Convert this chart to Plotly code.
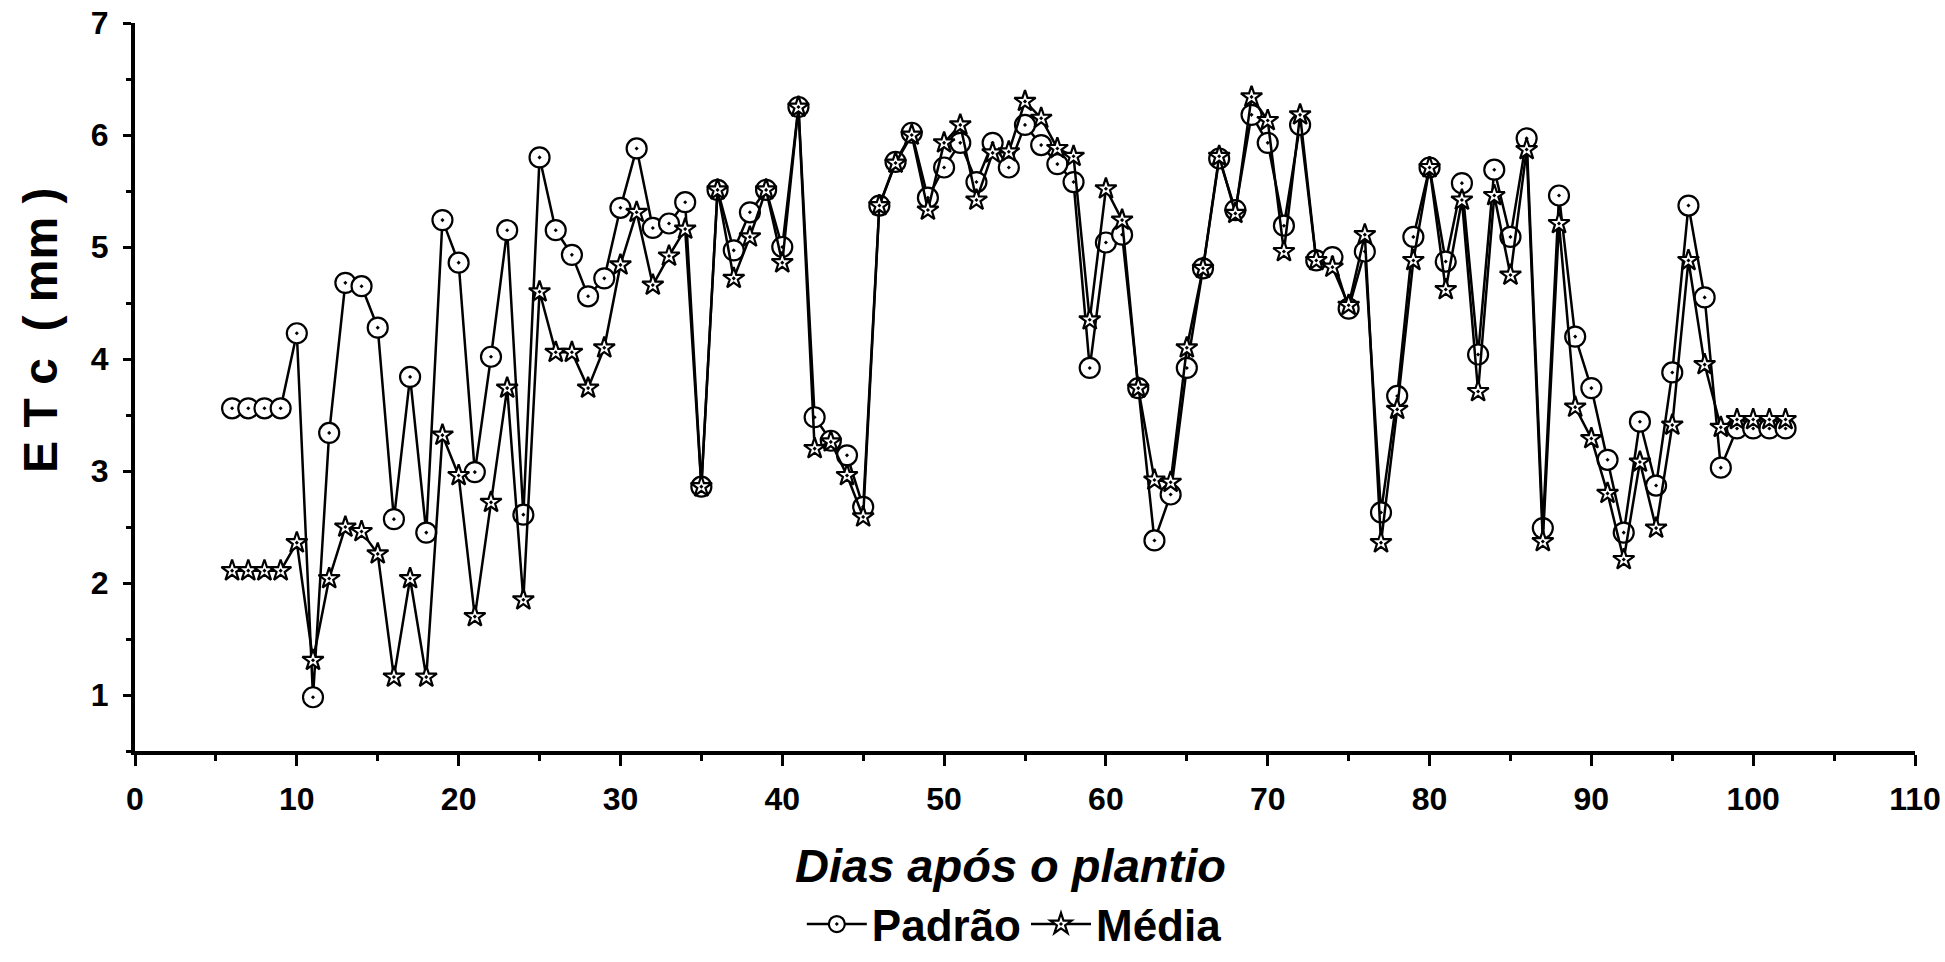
import plotly.graph_objects as go

# Days after planting (x) and crop evapotranspiration ETc in mm (y)
dias = list(range(6, 103))

etc_padrao = [
    3.56, 3.56, 3.56, 3.56, 4.23, 0.98, 3.34, 4.68, 4.65, 4.28,   # 6-15
    2.57, 3.84, 2.45, 5.24, 4.86, 2.99, 4.02, 5.15, 2.61, 5.80,   # 16-25
    5.15, 4.93, 4.56, 4.72, 5.35, 5.88, 5.17, 5.21, 5.40, 2.86,   # 26-35
    5.51, 4.97, 5.31, 5.51, 5.00, 6.25, 3.48, 3.27, 3.14, 2.68,   # 36-45
    5.37, 5.76, 6.02, 5.44, 5.71, 5.93, 5.58, 5.93, 5.71, 6.09,   # 46-55
    5.91, 5.74, 5.58, 3.92, 5.04, 5.11, 3.74, 2.38, 2.79, 3.92,   # 56-65
    4.81, 5.79, 5.33, 6.18, 5.93, 5.19, 6.09, 4.88, 4.91, 4.45,   # 66-75
    4.96, 2.63, 3.67, 5.09, 5.71, 4.87, 5.57, 4.04, 5.69, 5.09,   # 76-85
    5.97, 2.49, 5.46, 4.20, 3.74, 3.10, 2.45, 3.44, 2.87, 3.88,   # 86-95
    5.37, 4.55, 3.03, 3.38, 3.38, 3.38, 3.38,                     # 96-102
]

etc_media = [
    2.11, 2.11, 2.11, 2.11, 2.36, 1.31, 2.04, 2.50, 2.46, 2.26,   # 6-15
    1.16, 2.04, 1.16, 3.32, 2.96, 1.70, 2.72, 3.74, 1.85, 4.60,   # 16-25
    4.06, 4.06, 3.74, 4.10, 4.84, 5.31, 4.66, 4.92, 5.16, 2.86,   # 26-35
    5.51, 4.72, 5.09, 5.51, 4.86, 6.25, 3.20, 3.26, 2.96, 2.59,   # 36-45
    5.37, 5.75, 6.00, 5.33, 5.93, 6.09, 5.42, 5.84, 5.85, 6.30,   # 46-55
    6.15, 5.88, 5.81, 4.35, 5.52, 5.24, 3.74, 2.92, 2.90, 4.10,   # 56-65
    4.81, 5.81, 5.30, 6.34, 6.13, 4.96, 6.18, 4.88, 4.82, 4.48,   # 66-75
    5.11, 2.36, 3.55, 4.88, 5.71, 4.62, 5.42, 3.71, 5.46, 4.75,   # 76-85
    5.87, 2.37, 5.21, 3.57, 3.29, 2.80, 2.21, 3.08, 2.49, 3.41,   # 86-95
    4.88, 3.95, 3.39, 3.46, 3.46, 3.46, 3.46,                     # 96-102
]

x_ticks = list(range(0, 111, 10))
y_ticks = list(range(1, 8))

FONT = "Liberation Sans, Arial, sans-serif"

fig = go.Figure()

fig.add_trace(go.Scatter(
    x=dias, y=etc_padrao, name="Padrão", mode="lines+markers",
    line=dict(color="black", width=2.5),
    marker=dict(symbol="circle-dot", size=20, color="white",
                line=dict(color="black", width=2.2)),
))

fig.add_trace(go.Scatter(
    x=dias, y=etc_media, name="Média", mode="lines+markers",
    line=dict(color="black", width=2.5),
    marker=dict(symbol="star-dot", size=16, color="white",
                line=dict(color="black", width=2.2)),
))

axis_common = dict(
    showgrid=False, zeroline=False, showline=True,
    linecolor="black", linewidth=4, mirror=False,
    ticks="outside", tickcolor="black", tickwidth=3,
    tickfont=dict(family=FONT, size=32, color="black", weight="bold"),
    automargin=False,
)

fig.update_xaxes(
    range=[0, 110], tickvals=x_ticks, ticktext=[str(v) for v in x_ticks],
    ticklen=11, ticklabelstandoff=6,
    minor=dict(dtick=5, tick0=0, ticks="outside", ticklen=6,
               tickwidth=3, tickcolor="black"),
    **axis_common,
)
fig.update_yaxes(
    range=[0.5, 7], tickvals=y_ticks, ticktext=[str(v) for v in y_ticks],
    ticklen=8, ticklabelstandoff=8,
    minor=dict(dtick=0.5, tick0=0, ticks="outside", ticklen=5,
               tickwidth=3, tickcolor="black"),
    **axis_common,
)

# Axis titles
fig.add_annotation(
    text="<b>E T c  ( mm )</b>", textangle=-90,
    xref="paper", yref="paper", x=-0.053, y=0.578,
    xanchor="center", yanchor="middle", showarrow=False,
    font=dict(family=FONT, size=48, color="black"),
)
fig.add_annotation(
    text="<b><i>Dias após o plantio</i></b>",
    xref="paper", yref="paper", x=0.492, y=-0.157,
    xanchor="center", yanchor="middle", showarrow=False,
    font=dict(family=FONT, size=47, color="black"),
)

fig.update_layout(
    width=1945, height=962,
    margin=dict(l=135, r=30, t=23, b=211, autoexpand=False),
    paper_bgcolor="white", plot_bgcolor="white",
    showlegend=True,
    legend=dict(
        orientation="h", x=0.494, y=-0.287, xanchor="center", yanchor="bottom",
        font=dict(family=FONT, size=44, color="black", weight="bold"),
        itemwidth=60, bgcolor="rgba(0,0,0,0)", traceorder="normal",
        borderwidth=0, tracegroupgap=0,
    ),
)

fig.write_html("out.html")
